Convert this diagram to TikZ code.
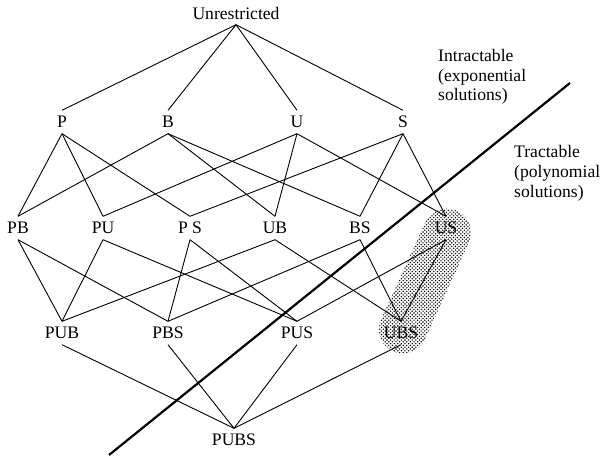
\documentclass[tikz,border=0pt]{standalone}
\usepackage{fontspec}
\setmainfont{Liberation Serif}
\usetikzlibrary{patterns,shapes.misc}
\pgfdeclarepatternformonly{stipple}{\pgfqpoint{-1pt}{-1pt}}{\pgfqpoint{4pt}{4pt}}{\pgfqpoint{3.6pt}{3.6pt}}{%
  \pgfpathcircle{\pgfqpoint{0pt}{0pt}}{0.78pt}%
  \pgfpathcircle{\pgfqpoint{1.8pt}{1.8pt}}{0.78pt}%
  \pgfusepath{fill}}
\begin{document}
\begin{tikzpicture}[x=1pt,y=-1pt,
  lbl/.style={font=\fontsize{17.6}{20}\selectfont, inner sep=0pt, minimum height=23pt, anchor=center},
  txt/.style={font=\fontsize{17.6}{19.6}\selectfont, inner sep=0pt, align=left, anchor=base west},
  edge/.style={line width=0.9pt},
  divider/.style={line width=2.2pt},
  blob/.style={rounded rectangle, draw=none, pattern=stipple, pattern color=black}]
\useasboundingbox (0,0) rectangle (601,457);
% shaded region
\node[blob, minimum width=161pt, minimum height=48pt, rotate=65.5] (shade) at (425,281) {};
% nodes
\node[lbl] (top) at (236,13) {Unrestricted};
\node[lbl] (P) at (62,122) {P};
\node[lbl] (B) at (168,122) {B};
\node[lbl] (U) at (297,122) {U};
\node[lbl] (S) at (403,122) {S};
\node[lbl] (PB) at (18,228) {PB};
\node[lbl] (PU) at (103,228) {PU};
\node[lbl] (PS) at (190,228) {P S};
\node[lbl] (UB) at (275,228) {UB};
\node[lbl] (BS) at (360,228) {BS};
\node[lbl] (US) at (446,228) {US};
\node[lbl] (PUB) at (62,333) {PUB};
\node[lbl] (PBS) at (168,333) {PBS};
\node[lbl] (PUS) at (297,333) {PUS};
\node[lbl] (UBS) at (401,333) {UBS};
\node[lbl] (PUBS) at (234,440) {PUBS};
% edges
\foreach \a in {P,B,U,S} \draw[edge] (top.south) -- (\a.north);
\foreach \a/\b in {P/PB,P/PU,P/PS,B/PB,B/UB,B/BS,U/PU,U/UB,U/US,S/PS,S/BS,S/US,
  PB/PUB,PB/PBS,PU/PUB,PU/PUS,PS/PBS,PS/PUS,UB/PUB,UB/UBS,BS/PBS,BS/UBS,US/PUS,US/UBS}
  \draw[edge] (\a.south) -- (\b.north);
\foreach \a in {PUB,PBS,PUS,UBS} \draw[edge] (\a.south) -- (PUBS.north);
% dividing line
\coordinate (d1) at (570,83);
\coordinate (d2) at (109,455);
\draw[divider] (d1) -- (d2);
% region labels
\node[txt] (intr) at (438,101) {Intractable\\(exponential\\solutions)};
\node[txt] (tract) at (514,197) {Tractable\\(polynomial\\solutions)};
\end{tikzpicture}
\end{document}
